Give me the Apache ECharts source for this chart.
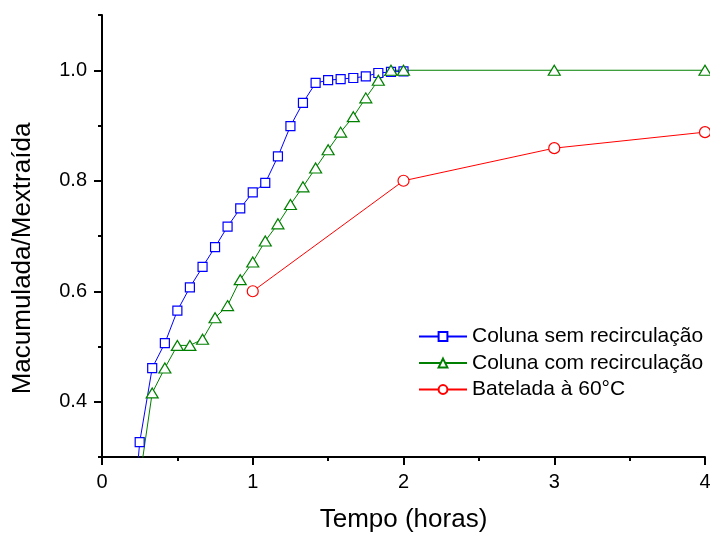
<!DOCTYPE html>
<html>
<head>
<meta charset="utf-8">
<script src="https://cdn.jsdelivr.net/npm/echarts@6/dist/echarts.min.js"></script>
<style>
  html, body { margin: 0; padding: 0; background: #fff; }
  #chart { width: 710px; height: 533px; }
</style>
</head>
<body>
<div id="chart"></div>
<script>
// Time in hours
const tempoSem = [0.167, 0.25, 0.333, 0.417, 0.5, 0.583, 0.667, 0.75, 0.833, 0.917, 1.0, 1.083,
                  1.167, 1.25, 1.333, 1.417, 1.5, 1.583, 1.667, 1.75, 1.833, 1.917, 2.0];
const colunaSem = [0.06, 0.327, 0.461, 0.506, 0.565, 0.607, 0.644, 0.680, 0.717, 0.750, 0.779, 0.796,
                   0.844, 0.899, 0.941, 0.977, 0.982, 0.984, 0.986, 0.989, 0.995, 0.997, 0.998];

const tempoCom = [0.25, 0.333, 0.417, 0.5, 0.583, 0.667, 0.75, 0.833, 0.917, 1.0, 1.083, 1.167,
                  1.25, 1.333, 1.417, 1.5, 1.583, 1.667, 1.75, 1.833, 1.917, 2.0, 3.0, 4.0];
const colunaCom = [0.26, 0.416, 0.461, 0.502, 0.502, 0.513, 0.552, 0.574, 0.621, 0.653, 0.691, 0.722,
                   0.757, 0.789, 0.823, 0.856, 0.888, 0.916, 0.950, 0.982, 1.0, 1.0, 1.0, 1.0];

const tempoBat = [1, 2, 3, 4];
const batelada = [0.6, 0.8, 0.859, 0.888];

const yMajor = [0.4, 0.6, 0.8, 1.0];

const font = 'Liberation Sans, Arial, sans-serif';
const zip = (xs, ys) => xs.map((x, i) => [x, ys[i]]);

const chart = echarts.init(document.getElementById('chart'));

const option = {
    animation: false,
    backgroundColor: '#fff',
    textStyle: { fontFamily: font, color: '#000' },
    grid: { left: 102, right: 5, top: 15, bottom: 76, outerBoundsMode: 'none', containLabel: false },
    legend: {
        left: 418,
        top: 326,
        padding: 0,
        orient: 'vertical',
        itemWidth: 48,
        itemHeight: 11,
        itemGap: 5.5,
        textStyle: { fontFamily: font, fontSize: 21, color: '#000' },
        data: ['Coluna sem recirculação', 'Coluna com recirculação', 'Batelada à 60°C']
    },
    xAxis: {
        type: 'value',
        min: 0,
        max: 4,
        interval: 1,
        name: 'Tempo (horas)',
        nameLocation: 'middle',
        nameGap: 50,
        nameTextStyle: { fontFamily: font, fontSize: 26, color: '#000' },
        axisLine: { onZero: false, lineStyle: { color: '#000', width: 2 } },
        axisTick: { length: 8, lineStyle: { color: '#000', width: 2 } },
        minorTick: { show: true, splitNumber: 2, length: 4, lineStyle: { color: '#000', width: 2 } },
        axisLabel: { fontFamily: font, fontSize: 20, color: '#000', margin: 15 },
        splitLine: { show: false }
    },
    yAxis: [
        {
            type: 'value',
            min: 0.3,
            max: 1.1,
            interval: 0.1,
            name: 'Macumulada/Mextraída',
            nameLocation: 'middle',
            nameGap: 66,
            nameRotate: 90,
            nameTextStyle: { fontFamily: font, fontSize: 26, color: '#000', padding: [0, 45, 0, 0] },
            axisLine: { onZero: false, lineStyle: { color: '#000', width: 2 } },
            axisTick: { length: 4, lineStyle: { color: '#000', width: 2 } },
            axisLabel: { show: false },
            splitLine: { show: false }
        },
        {
            type: 'value',
            position: 'left',
            min: 0.3,
            max: 1.1,
            interval: 0.1,
            axisLine: { show: false },
            axisTick: { show: true, customValues: yMajor, length: 8, lineStyle: { color: '#000', width: 2 } },
            axisLabel: {
                customValues: yMajor,
                fontFamily: font, fontSize: 20, color: '#000', margin: 15,
                formatter: v => v.toFixed(1)
            },
            splitLine: { show: false }
        }
    ],
    series: [
        {
            name: 'Coluna sem recirculação',
            type: 'line',
            data: zip(tempoSem, colunaSem),
            symbol: 'rect',
            symbolSize: 9,
            clip: true,
            lineStyle: { color: '#0000ff', width: 1 },
            itemStyle: { color: '#fff', borderColor: '#0000ff', borderWidth: 1.2 }
        },
        {
            name: 'Coluna com recirculação',
            type: 'line',
            data: zip(tempoCom, colunaCom),
            symbol: 'triangle',
            symbolSize: [12, 10],
            clip: true,
            lineStyle: { color: '#008000', width: 1 },
            itemStyle: { color: '#fff', borderColor: '#008000', borderWidth: 1.2 }
        },
        {
            name: 'Batelada à 60°C',
            type: 'line',
            data: zip(tempoBat, batelada),
            symbol: 'circle',
            symbolSize: 11,
            clip: false,
            lineStyle: { color: '#ff0000', width: 1 },
            itemStyle: { color: '#fff', borderColor: '#ff0000', borderWidth: 1.2 }
        }
    ]
};

chart.setOption(option);
</script>
</body>
</html>
